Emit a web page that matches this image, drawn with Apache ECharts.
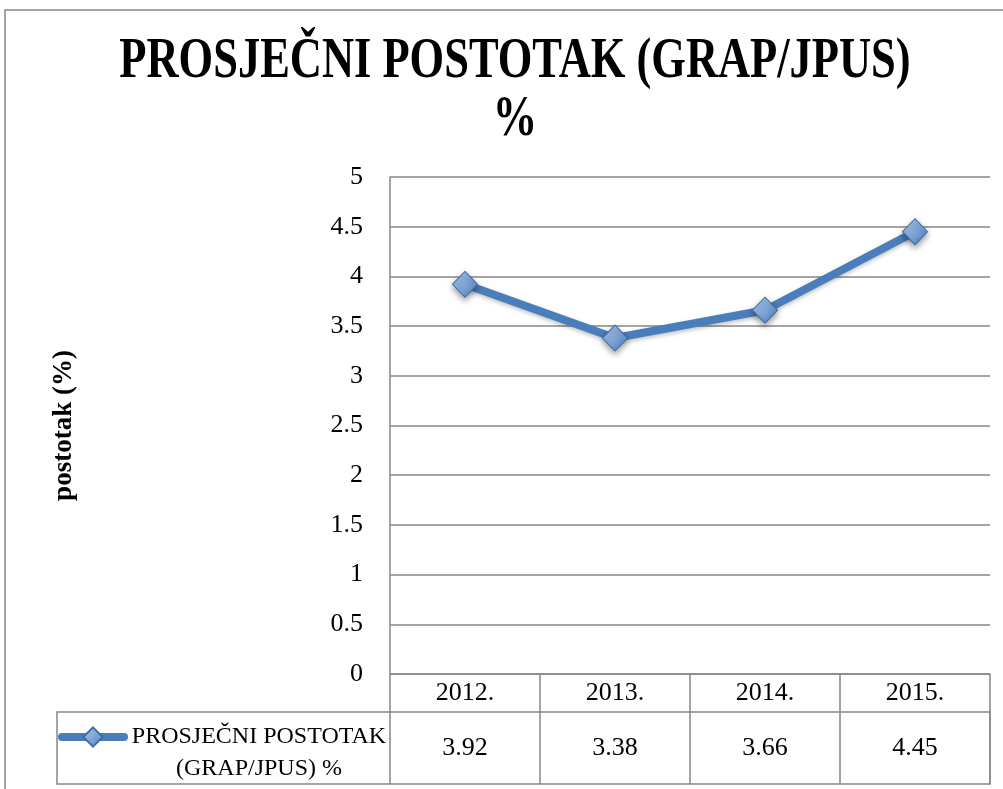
<!DOCTYPE html>
<html>
<head>
    <meta charset="utf-8">
    <title>PROSJEČNI POSTOTAK (GRAP/JPUS) %</title>
    <script src="https://cdn.jsdelivr.net/npm/echarts@6/dist/echarts.min.js"></script>
    <style type="text/css">
        html, body { margin: 0; padding: 0; background: #fff; }
        #chart { width: 1003px; height: 789px; }
    </style>
</head>
<body>
    <div id="chart"></div>
    <script type="text/javascript">
        var years = ['2012.', '2013.', '2014.', '2015.'];
        var values = [3.92, 3.38, 3.66, 4.45];
        var yTicks = [0, 0.5, 1, 1.5, 2, 2.5, 3, 3.5, 4, 4.5, 5];
        var seriesName = 'PROSJEČNI POSTOTAK (GRAP/JPUS) %';

        var serif = '"Liberation Serif", "DejaVu Serif", serif';
        var gray = '#878787';

        var chart = echarts.init(document.getElementById('chart'));

        var option = {
            backgroundColor: '#fff',
            animation: false,
            grid: {
                left: 390,
                right: 13,
                top: 177,
                bottom: 115
            },
            legend: {
                left: 58,
                top: 694,
                padding: 0,
                itemWidth: 62,
                itemHeight: 24,
                data: [seriesName],
                lineStyle: { width: 8, cap: 'round', color: '#4a7ebb' },
                formatter: function () {
                    return '{e| }\n{a|PROSJEČNI POSTOTAK}\n{a|(GRAP/JPUS) %}';
                },
                textStyle: {
                    color: '#000',
                    rich: {
                        e: { fontSize: 22, lineHeight: 32, fontFamily: serif },
                        a: { width: 260, align: 'center', fontSize: 24, lineHeight: 32, fontFamily: serif, color: '#000' }
                    }
                }
            },
            xAxis: [
                {
                    type: 'category',
                    data: years,
                    position: 'bottom',
                    axisLine: { lineStyle: { color: gray, width: 1.5 } },
                    axisTick: { show: true, length: 110, lineStyle: { color: gray, width: 1.5 } },
                    axisLabel: { color: '#000', fontSize: 26, fontFamily: serif, margin: 6 }
                },
                {
                    type: 'category',
                    data: values.map(function (v) { return v.toFixed(2); }),
                    position: 'bottom',
                    offset: 55,
                    axisLine: { show: false },
                    axisTick: { show: false },
                    axisLabel: { color: '#000', fontSize: 26, fontFamily: serif, margin: 6 }
                }
            ],
            yAxis: {
                type: 'value',
                min: yTicks[0],
                max: yTicks[yTicks.length - 1],
                interval: 0.5,
                name: 'postotak (%)',
                nameLocation: 'middle',
                nameGap: 312,
                nameTextStyle: { color: '#000', fontSize: 27, fontWeight: 'bold', fontFamily: serif },
                axisLine: { show: true, lineStyle: { color: gray, width: 1.5 } },
                axisTick: { show: false },
                axisLabel: { color: '#000', fontSize: 26, fontFamily: serif, margin: 27 },
                splitLine: { lineStyle: { color: gray, width: 1.5 } }
            },
            series: [
                {
                    name: seriesName,
                    type: 'line',
                    xAxisIndex: 0,
                    data: values,
                    symbol: 'diamond',
                    symbolSize: [25, 26],
                    lineStyle: {
                        color: '#4a7ebb',
                        width: 8,
                        shadowColor: 'rgba(0,0,0,0.25)',
                        shadowBlur: 4,
                        shadowOffsetY: 2
                    },
                    itemStyle: {
                        color: new echarts.graphic.LinearGradient(0, 0, 1, 1, [
                            { offset: 0, color: '#b0cdf3' },
                            { offset: 1, color: '#4f81bd' }
                        ]),
                        borderColor: '#3e6da6',
                        borderWidth: 1,
                        shadowColor: 'rgba(0,0,0,0.4)',
                        shadowBlur: 6,
                        shadowOffsetY: 3
                    },
                    label: { show: false }
                }
            ],
            graphic: [
                // outer chart frame
                {
                    type: 'rect',
                    shape: { x: 5, y: 10, width: 1010, height: 800 },
                    style: { fill: 'none', stroke: gray, lineWidth: 1.5 },
                    silent: true
                },
                // data table lines
                {
                    type: 'rect',
                    shape: { x: 57, y: 712, width: 933, height: 72 },
                    style: { fill: 'none', stroke: gray, lineWidth: 1.5 },
                    silent: true
                },
                {
                    type: 'text',
                    x: 515,
                    y: 62,
                    scaleX: 0.78,
                    style: {
                        text: 'PROSJEČNI POSTOTAK (GRAP/JPUS)',
                        fontSize: 57,
                        fontWeight: 'bold',
                        fontFamily: serif,
                        fill: '#000',
                        textAlign: 'center',
                        textVerticalAlign: 'middle'
                    }
                },
                {
                    type: 'text',
                    x: 515,
                    y: 120,
                    scaleX: 0.78,
                    style: {
                        text: '%',
                        fontSize: 57,
                        fontWeight: 'bold',
                        fontFamily: serif,
                        fill: '#000',
                        textAlign: 'center',
                        textVerticalAlign: 'middle'
                    }
                }
            ]
        };

        chart.setOption(option);
    </script>
</body>
</html>
